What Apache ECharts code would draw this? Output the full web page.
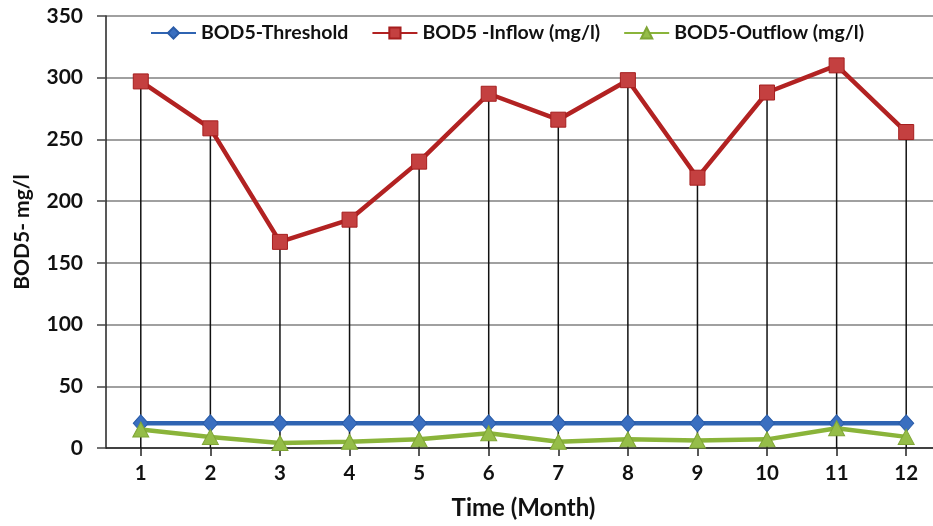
<!DOCTYPE html>
<html><head><meta charset="utf-8">
<script src="https://cdn.jsdelivr.net/npm/echarts@6/dist/echarts.min.js"></script>
<style>html,body{margin:0;padding:0;background:#fff}#c{width:933px;height:526px}</style>
</head><body><div id="c"></div>
<script>
const months = ['1','2','3','4','5','6','7','8','9','10','11','12'];
const threshold = [20,20,20,20,20,20,20,20,20,20,20,20];
const inflow = [297,259,167,185,232,287,266,298,219,288,310,256];
const outflow = [15,9,4,5,7,12,5,7,6,7,16,9];
const yTicks = {min:0, max:350, interval:50};
const FONT = 'Lato';
const chart = echarts.init(document.getElementById('c'));
chart.setOption({
  animation:false,
  backgroundColor:'#fff',
  textStyle:{fontFamily:FONT},
  grid:{left:106, top:16, right:-8, bottom:78, containLabel:false, outerBoundsMode:'none'},
  legend:{
    data:['BOD5-Threshold','BOD5 -Inflow (mg/l)','BOD5-Outflow (mg/l)'],
    left:150, top:23, padding:0, itemWidth:45, itemHeight:14, itemGap:23,
    textStyle:{fontFamily:FONT, fontWeight:'bold', fontSize:19.5, color:'#111'}
  },
  xAxis:{
    type:'category', data:months, boundaryGap:true,
    name:'Time (Month)', nameLocation:'middle', nameGap:48,
    nameTextStyle:{fontFamily:FONT, fontWeight:'bold', fontSize:24, color:'#111'},
    axisLine:{lineStyle:{color:'#222', width:1.5}},
    axisTick:{show:true, alignWithLabel:true, length:8, lineStyle:{color:'#222', width:1.5}},
    axisLabel:{fontFamily:FONT, fontWeight:'bold', fontSize:20.5, color:'#111', margin:15},
    splitLine:{show:false}
  },
  yAxis:{
    type:'value', min:yTicks.min, max:yTicks.max, interval:yTicks.interval,
    name:'BOD5- mg/l', nameLocation:'middle', nameGap:73, nameRotate:90,
    nameTextStyle:{fontFamily:FONT, fontWeight:'bold', fontSize:21, color:'#111'},
    axisLine:{show:true, lineStyle:{color:'#222', width:1.5}},
    axisTick:{show:true, length:9, lineStyle:{color:'#444', width:1.5}},
    axisLabel:{fontFamily:FONT, fontWeight:'bold', fontSize:21, color:'#111', margin:23},
    splitLine:{show:true, lineStyle:{color:'#808080', width:1.5}}
  },
  series:[
    {name:'drop', type:'bar', data:inflow, barWidth:1.5, z:1,
     itemStyle:{color:'#111'}, legendHoverLink:false, silent:true},
    {name:'BOD5-Threshold', type:'line', data:threshold, z:3,
     symbol:'diamond', symbolSize:[15,17],
     lineStyle:{color:'#2F64B2', width:4.5},
     itemStyle:{color:'#3A6FC0', borderColor:'#2A5CA8', borderWidth:1}},
    {name:'BOD5 -Inflow (mg/l)', type:'line', data:inflow, z:3,
     symbol:'rect', symbolSize:15,
     lineStyle:{color:'#B22222', width:4.5},
     itemStyle:{color:'#C44040', borderColor:'#A51E1E', borderWidth:1}},
    {name:'BOD5-Outflow (mg/l)', type:'line', data:outflow, z:4,
     symbol:'triangle', symbolSize:[16,15],
     lineStyle:{color:'#8AB43A', width:4.5},
     itemStyle:{color:'#95BD48', borderColor:'#7FA535', borderWidth:1}}
  ]
});
</script></body></html>
